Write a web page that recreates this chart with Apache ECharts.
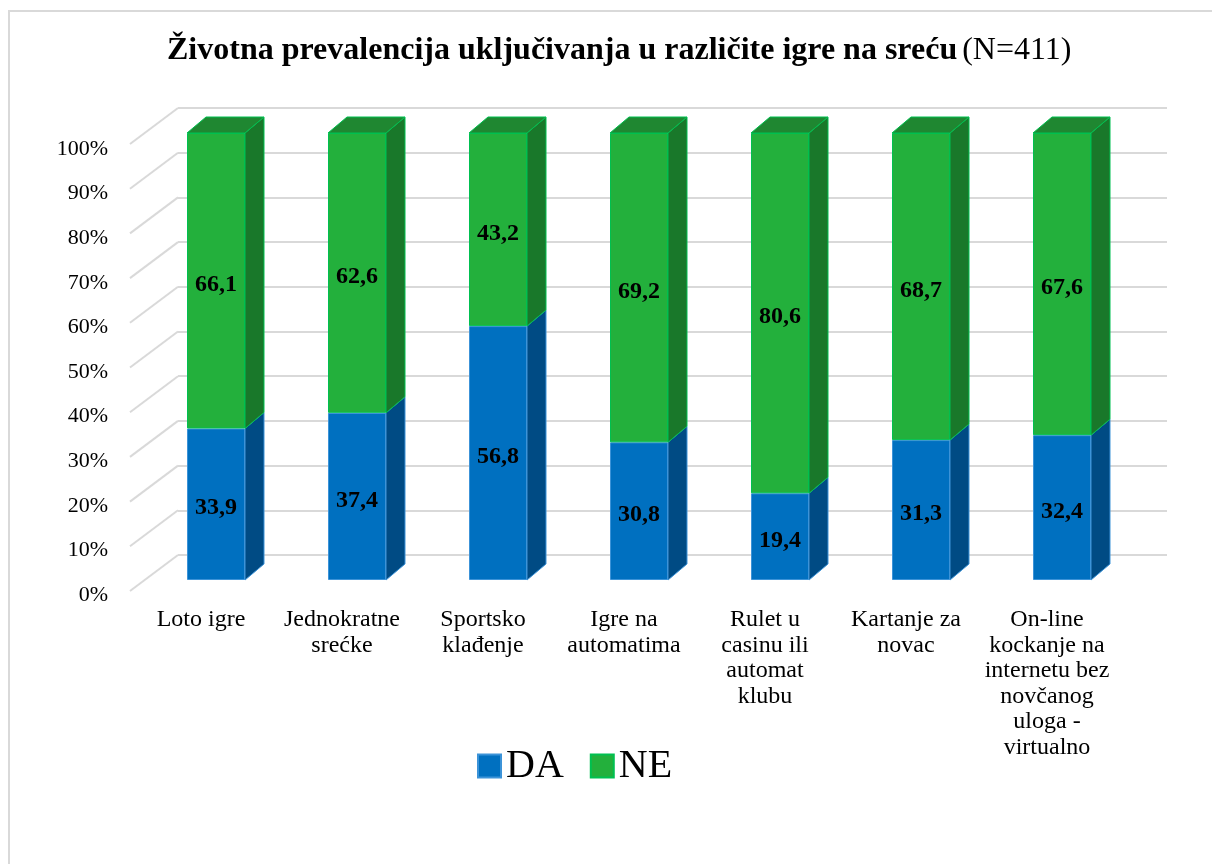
<!DOCTYPE html>
<html>
<head>
<meta charset="utf-8">
<script src="https://cdn.jsdelivr.net/npm/echarts@6/dist/echarts.min.js"></script>
<style>
  html, body { margin: 0; padding: 0; background: #fff; }
  #main { width: 1212px; height: 864px; }
</style>
</head>
<body>
<div id="main"></div>
<script>
// data
const categories = ['Loto igre', 'Jednokratne\nsrećke', 'Sportsko\nklađenje', 'Igre na\nautomatima',
  'Rulet u\ncasinu ili\nautomat\nklubu', 'Kartanje za\nnovac', 'On-line\nkockanje na\ninternetu bez\nnovčanog\nuloga -\nvirtualno'];
const daValues = [33.9, 37.4, 56.8, 30.8, 19.4, 31.3, 32.4];
const neValues = [66.1, 62.6, 43.2, 69.2, 80.6, 68.7, 67.6];
const tickValues = [0, 10, 20, 30, 40, 50, 60, 70, 80, 90, 100];

const FONT = '"Liberation Serif", "Times New Roman", serif';
const BAR_W = 58, DX = 19, DY = 16;
const colors = {
  da: { front: '#0070C0', side: '#004B84', top: '#005A9E', edge: '#3C93D8' },
  ne: { front: '#23B03C', side: '#19782A', top: '#1F8731', edge: '#00C050' }
};

let chart = echarts.init(document.getElementById('main'));

// side & top faces of each segment
let faces = [];
for (let i = 0; i < categories.length; i++) {
  faces.push([i, 0, daValues[i], 0]);
  faces.push([i, daValues[i], daValues[i] + neValues[i], 1]);
}

function renderFaces(params, api) {
  let i = api.value(0), v0 = api.value(1), v1 = api.value(2), kind = api.value(3);
  let c = kind === 0 ? colors.da : colors.ne;
  let pb = api.coord([i, v0]), pt = api.coord([i, v1]);
  let xl = pb[0] - BAR_W / 2, xr = pb[0] + BAR_W / 2;
  let children = [{
    type: 'polygon',
    shape: { points: [[xr, pt[1]], [xr + DX, pt[1] - DY], [xr + DX, pb[1] - DY], [xr, pb[1]]] },
    style: { fill: c.side, stroke: c.edge, lineWidth: 1 }
  }];
  if (kind === 1) {
    children.push({
      type: 'polygon',
      shape: { points: [[xl, pt[1]], [xr, pt[1]], [xr + DX, pt[1] - DY], [xl + DX, pt[1] - DY]] },
      style: { fill: c.top, stroke: c.edge, lineWidth: 1 }
    });
  }
  return { type: 'group', children: children };
}

// diagonal floor / wall lines from the back wall to the front plane
function renderDiag(params, api) {
  let p = api.coord([0, api.value(0)]);
  return {
    type: 'line',
    shape: { x1: p[0], y1: p[1], x2: p[0] - 48, y2: p[1] + 36 },
    style: { stroke: '#d9d9d9', lineWidth: 2 }
  };
}

let labelFmt = p => p.value.toFixed(1).replace('.', ',');
let labelStyle = { show: true, position: 'inside', offset: [0, 4], formatter: labelFmt, fontFamily: FONT, fontSize: 24, fontWeight: 'bold', color: '#000' };

let option = {
  backgroundColor: '#fff',
  animation: false,
  title: {
    left: 162,
    top: 30,
    text: '{b|Životna prevalencija uključivanja u različite igre na sreću} {n|(N=411)}',
    textStyle: {
      fontWeight: 'normal',
      rich: {
        b: { fontFamily: FONT, fontSize: 32, fontWeight: 'bold', color: '#000' },
        n: { fontFamily: FONT, fontSize: 32, fontWeight: 'normal', color: '#000' }
      }
    }
  },
  graphic: [{
    type: 'polyline',
    shape: { points: [[9, 900], [9, 11], [1230, 11]] },
    style: { stroke: '#d9d9d9', lineWidth: 2, fill: null },
    silent: true
  }],
  legend: {
    data: ['DA', 'NE'],
    left: 472,
    top: 741,
    itemWidth: 23,
    itemHeight: 23,
    itemGap: 26,
    icon: 'rect',
    textStyle: { fontFamily: FONT, fontSize: 40, color: '#000' }
  },
  grid: [
    { left: 145.5, width: 987, top: 133, height: 447 },   // bar front faces
    { left: 178, width: 989, top: 108, height: 447 },     // back wall
    { left: 130, width: 10, top: 149, height: 446 },      // front plane for value labels
    { left: 130.5, width: 987, top: 144, height: 446 }    // front plane for category labels
  ],
  xAxis: [
    { gridIndex: 0, type: 'category', data: categories, show: false },
    { gridIndex: 1, type: 'value', min: 0, max: 1, show: false },
    { gridIndex: 2, type: 'value', min: 0, max: 1, show: false },
    {
      gridIndex: 3, type: 'category', data: categories,
      axisLine: { show: false }, axisTick: { show: false },
      axisLabel: { margin: 17, interval: 0, fontFamily: FONT, fontSize: 24, lineHeight: 25.5, color: '#000', verticalAlign: 'top' }
    }
  ],
  yAxis: [
    { gridIndex: 0, type: 'value', min: 0, max: 100, show: false },
    {
      gridIndex: 1, type: 'value', min: 0, max: 100, interval: 10,
      axisLine: { show: false }, axisTick: { show: false }, axisLabel: { show: false },
      splitLine: { lineStyle: { color: '#d9d9d9', width: 2 } }
    },
    {
      gridIndex: 2, type: 'value', min: 0, max: 100, interval: 10,
      axisLine: { show: false }, axisTick: { show: false }, splitLine: { show: false },
      axisLabel: { margin: 22, fontFamily: FONT, fontSize: 22, color: '#000', formatter: '{value}%' }
    },
    { gridIndex: 3, type: 'value', min: 0, max: 100, show: false }
  ],
  series: [
    {
      type: 'custom', xAxisIndex: 1, yAxisIndex: 1, silent: true,
      data: tickValues, renderItem: renderDiag, z: 1
    },
    {
      name: 'DA', type: 'bar', stack: 'all', barWidth: BAR_W,
      data: daValues,
      itemStyle: { color: colors.da.front, borderColor: colors.da.edge, borderWidth: 1 },
      label: labelStyle,
      z: 3
    },
    {
      name: 'NE', type: 'bar', stack: 'all', barWidth: BAR_W,
      data: neValues,
      itemStyle: { color: colors.ne.front, borderColor: colors.ne.edge, borderWidth: 1 },
      label: labelStyle,
      z: 3
    },
    {
      type: 'custom', silent: true, data: faces, renderItem: renderFaces, z: 2
    }
  ]
};

chart.setOption(option);
</script>
</body>
</html>
